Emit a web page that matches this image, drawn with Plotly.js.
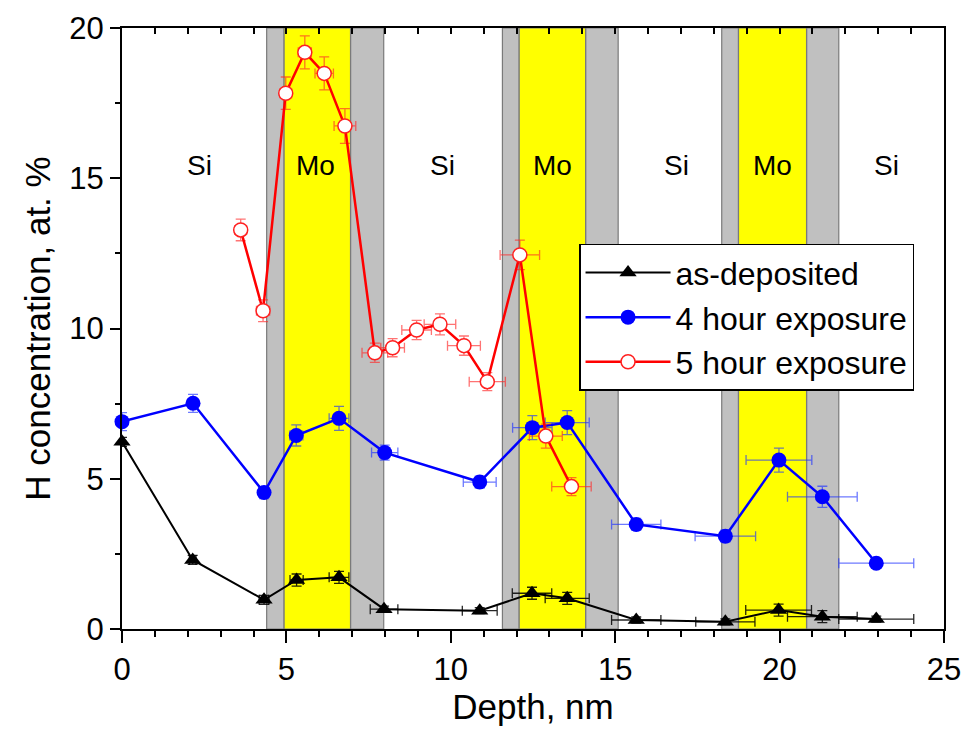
<!DOCTYPE html>
<html>
<head>
<meta charset="utf-8">
<script src="https://cdn.plot.ly/plotly-3.0.1.min.js"></script>
<style>html,body{margin:0;padding:0;background:#fff;}#chart{width:970px;height:735px;}</style>
</head>
<body>
<div id="chart"></div>
<script>
// ---- data ----
const seriesNames = ["as-deposited", "4 hour exposure", "5 hour exposure"];

const asDepX    = [0, 2.15, 4.32, 5.31, 6.6, 7.97, 10.88, 12.47, 13.54, 15.64, 18.35, 19.97, 21.3, 22.94];
const asDepY    = [6.23, 2.30, 0.97, 1.63, 1.72, 0.66, 0.61, 1.19, 1.02, 0.30, 0.24, 0.63, 0.41, 0.33];
const asDepXErr = [0, 0.1, 0.15, 0.2, 0.3, 0.42, 0.53, 0.6, 0.67, 0.75, 0.9, 1.0, 1.06, 1.14];
const asDepYErr = [0.15, 0.15, 0.15, 0.2, 0.2, 0.1, 0.1, 0.2, 0.2, 0.1, 0.1, 0.2, 0.2, 0.1];

const fourHX    = [0, 2.16, 4.32, 5.3, 6.6, 7.99, 10.88, 12.48, 13.54, 15.64, 18.35, 19.98, 21.3, 22.94];
const fourHY    = [6.9, 7.51, 4.54, 6.44, 7.01, 5.87, 4.89, 6.7, 6.87, 3.48, 3.09, 5.62, 4.40, 2.19];
const fourHXErr = [0, 0.1, 0.15, 0.2, 0.3, 0.4, 0.5, 0.6, 0.67, 0.75, 0.92, 1.0, 1.06, 1.14];
const fourHYErr = [0.3, 0.3, 0.2, 0.35, 0.4, 0.25, 0.2, 0.4, 0.4, 0.2, 0.2, 0.4, 0.35, 0.1];

const fiveHX    = [3.61, 4.29, 4.98, 5.56, 6.15, 6.78, 7.69, 8.23, 8.96, 9.67, 10.4, 11.11, 12.1, 12.89, 13.67];
const fiveHY    = [13.28, 10.59, 17.83, 19.19, 18.49, 16.74, 9.19, 9.36, 9.95, 10.14, 9.43, 8.23, 12.45, 6.42, 4.74];
const fiveHXErr = [0.18, 0.2, 0.18, 0.2, 0.28, 0.33, 0.39, 0.36, 0.45, 0.48, 0.5, 0.55, 0.6, 0.5, 0.6];
const fiveHYErr = [0.36, 0.36, 0.54, 0.55, 0.55, 0.58, 0.32, 0.3, 0.32, 0.35, 0.32, 0.3, 0.49, 0.4, 0.3];

// interface (gray) and Mo (yellow) layer boundaries, nm
const grayBands   = [[4.4, 4.93], [6.95, 7.96], [11.57, 12.08], [14.1, 15.09], [18.24, 18.75], [20.82, 21.8]];
const yellowBands = [[4.93, 6.95], [12.08, 14.1], [18.75, 20.82]];

const layerLabels = ["Si", "Mo", "Si", "Mo", "Si", "Mo", "Si"];
const layerLabelX = [2.37, 5.9, 9.76, 13.1, 16.87, 19.79, 23.25];
const layerLabelY = 15.44;

const xTickVals = [0, 5, 10, 15, 20, 25];
const yTickVals = [0, 5, 10, 15, 20];

// ---- chart ----
const FONT = "Liberation Sans, Arial, sans-serif";

function errObj(arr, color) {
  return {type: "data", array: arr, visible: true, color: color, thickness: 1.3, width: 5};
}

const traces = [
  {
    name: seriesNames[0], x: asDepX, y: asDepY, mode: "lines+markers", type: "scatter", cliponaxis: false,
    line: {color: "#000000", width: 2},
    marker: {symbol: "triangle-up", size: 15, color: "#000000"},
    error_x: errObj(asDepXErr, "rgba(0,0,0,0.85)"),
    error_y: errObj(asDepYErr, "rgba(0,0,0,0.85)")
  },
  {
    name: seriesNames[1], x: fourHX, y: fourHY, mode: "lines+markers", type: "scatter", cliponaxis: false,
    line: {color: "#0000ff", width: 2.5},
    marker: {symbol: "circle", size: 15, color: "#0000ff"},
    error_x: errObj(fourHXErr, "rgba(30,50,255,0.65)"),
    error_y: errObj(fourHYErr, "rgba(30,50,255,0.65)")
  },
  {
    name: seriesNames[2], x: fiveHX, y: fiveHY, mode: "lines+markers", type: "scatter", cliponaxis: false,
    line: {color: "#ff0000", width: 2.5},
    marker: {symbol: "circle", size: 14, color: "#ffffff", line: {color: "#ff2020", width: 1.5}},
    error_x: errObj(fiveHXErr, "rgba(255,40,40,0.65)"),
    error_y: errObj(fiveHYErr, "rgba(255,40,40,0.65)")
  },
  // invisible trace to carry the top axis
  {x: [0, 25], y: [0, 0], xaxis: "x2", yaxis: "y", mode: "markers", marker: {opacity: 0}, showlegend: false, hoverinfo: "skip"}
];

const shapes = [];
grayBands.forEach(b => shapes.push({type: "rect", xref: "x", yref: "paper", x0: b[0], x1: b[1], y0: 0, y1: 1,
  fillcolor: "#c0c0c0", line: {color: "#7a7a7a", width: 1.2}, layer: "below"}));
yellowBands.forEach(b => shapes.push({type: "rect", xref: "x", yref: "paper", x0: b[0], x1: b[1], y0: 0, y1: 1,
  fillcolor: "#ffff00", line: {color: "#7a7a7a", width: 1.2}, layer: "below"}));

const annotations = layerLabels.map((t, i) => ({
  text: t, x: layerLabelX[i], y: layerLabelY, xref: "x", yref: "y", showarrow: false,
  font: {family: FONT, size: 28, color: "#000"}
}));

const layout = {
  width: 970, height: 735,
  margin: {l: 122, r: 26, t: 28, b: 106},
  paper_bgcolor: "#ffffff", plot_bgcolor: "#ffffff",
  font: {family: FONT, color: "#000"},
  showlegend: true,
  legend: {
    x: 0.556, y: 0.641, xanchor: "left", yanchor: "top",
    bgcolor: "#ffffff", bordercolor: "#000000", borderwidth: 1.5,
    font: {family: FONT, size: 32, color: "#000"},
    itemwidth: 85
  },
  xaxis: {
    range: [0, 25], tickvals: xTickVals, ticktext: xTickVals.map(String),
    ticks: "outside", ticklen: 12, tickwidth: 2, tickcolor: "#000",
    minor: {dtick: 1, tick0: 0, ticks: "outside", ticklen: 6, tickwidth: 2, tickcolor: "#000"},
    showline: true, linecolor: "#000", linewidth: 2, mirror: false,
    showgrid: false, zeroline: false,
    tickfont: {family: FONT, size: 31, color: "#000"},
    title: {text: "Depth, nm", font: {family: FONT, size: 35, color: "#000"}, standoff: 0},
    automargin: false
  },
  xaxis2: {
    range: [0, 25], overlaying: "x", side: "top", anchor: "y",
    dtick: 1, tick0: 0, ticks: "inside", ticklen: 6, tickwidth: 2, tickcolor: "#000",
    showticklabels: false, showline: true, linecolor: "#000", linewidth: 2,
    showgrid: false, zeroline: false
  },
  yaxis: {
    range: [0, 20], tickvals: yTickVals, ticktext: yTickVals.map(String),
    ticks: "outside", ticklen: 10, tickwidth: 2, tickcolor: "#000",
    minor: {dtick: 2.5, tick0: 0, ticks: "outside", ticklen: 5, tickwidth: 2, tickcolor: "#000"},
    showline: true, linecolor: "#000", linewidth: 2, mirror: true,
    showgrid: false, zeroline: false,
    tickfont: {family: FONT, size: 31, color: "#000"},
    title: {text: "H concentration, at. %", font: {family: FONT, size: 35, color: "#000"}, standoff: 8},
    automargin: false
  },
  shapes: shapes,
  annotations: annotations
};

Plotly.newPlot("chart", traces, layout, {displayModeBar: false, staticPlot: true});
</script>
</body>
</html>
